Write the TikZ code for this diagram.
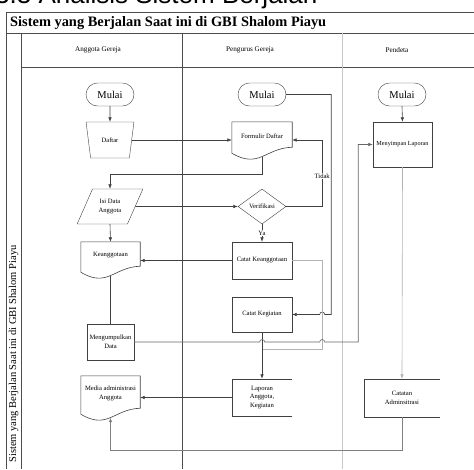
\documentclass[tikz,border=0pt]{standalone}
\usepackage{fontspec}
\setmainfont{Liberation Serif}
\newfontfamily\headsans{Liberation Sans}
\usetikzlibrary{shapes.geometric, arrows.meta, positioning, calc}

% outline of a document symbol (wavy bottom) round a node
\newcommand{\docpath}[1]{%
	\draw[conn] ([yshift=-3pt]#1.south west) -- (#1.north west) -- (#1.north east) -- ([yshift=3pt]#1.south east)
	.. controls ([xshift=3pt,yshift=2pt]#1.south) and ([xshift=-3pt,yshift=-19pt]#1.south) .. ([yshift=-3pt]#1.south west);}
% box open on its right side
\newcommand{\openbox}[1]{%
	\draw[conn] (#1.north east) -- (#1.north west) -- (#1.south west) -- (#1.south east);}

\begin{document}
\begin{tikzpicture}[
	x=1pt, y=-1pt,
	font=\fontsize{6.6}{8.8}\selectfont,
	% Shape styles
	start/.style={draw=black!75, rounded corners=11.5pt, minimum width=48pt, minimum height=23pt, inner sep=1pt, font=\fontsize{10.5}{12}\selectfont},
	manual/.style={draw=black!75, trapezium, trapezium left angle=108.4, trapezium right angle=108.4, trapezium stretches=true, minimum width=48pt, minimum height=36pt, inner sep=1pt},
	inputbox/.style={draw=black!75, trapezium, trapezium left angle=56.7, trapezium right angle=123.3, trapezium stretches=true, minimum width=66pt, minimum height=35pt, inner sep=1pt, align=center},
	decision/.style={draw=black!75, diamond, minimum width=48pt, minimum height=35pt, inner sep=0pt},
	process/.style={draw=black!75, rectangle, inner sep=0.5pt, align=center},
	doc/.style={rectangle, inner sep=0.5pt, align=center},
	store/.style={rectangle, inner sep=0.5pt, align=center},
	% Text styles
	swimtitle/.style={font=\fontsize{14.4}{16}\selectfont\bfseries, inner sep=0pt},
	bandtext/.style={font=\fontsize{10.5}{12}\selectfont, inner sep=0pt},
	lanehead/.style={font=\fontsize{7.2}{8}\selectfont},
	tag/.style={fill=white, inner sep=0.8pt},
	% Line styles
	swim/.style={draw=black!70, line width=0.7pt},
	conn/.style={draw=black!75, line width=0.6pt},
	arr/.style={conn, -{Latex[length=4.5pt, width=3.6pt]}}
	]
	
	\useasboundingbox (0,0) rectangle (474,469);
	
	% heading of the page, cut by the top edge
	\node[anchor=base west, inner sep=0pt, font=\headsans\fontsize{26}{30}\selectfont] (Head) at (-5,3.5) {3.3 Analisis Sistem Berjalan};
	
	% ==============================================================================
	% SWIMLANE FRAME
	% ==============================================================================
	\draw[swim] (474,12) -- (6,12) -- (6,469);
	\draw[swim] (6,33) -- (474,33);
	\draw[swim] (21,33) -- (21,469);
	\draw[swim] (21,67) -- (474,67);
	\draw[swim] (182,33) -- (182,469);
	\draw[swim, draw=black!22] (342,33) -- (342,469);
	
	\node[swimtitle, anchor=west] (Title) at (10,23.5) {Sistem yang Berjalan Saat ini di GBI Shalom Piayu};
	\node[bandtext, rotate=90] (Band) at (13.5,354) {Sistem yang Berjalan Saat ini di GBI Shalom Piayu};
	\node[lanehead] (LaneA) at (98,50) {Anggota Gereja};
	\node[lanehead] (LaneP) at (250,50) {Pengurus Gereja};
	\node[lanehead] (LaneD) at (397,50) {Pendeta};
	
	% ==============================================================================
	% ANGGOTA GEREJA
	% ==============================================================================
	\node[start] (MulaiA) at (110,94.5) {Mulai};
	\node[manual] (Daftar) at (110,140) {Daftar};
	\node[inputbox] (IsiData) at (110,206.5) {Isi Data\\Anggota};
	\node[doc, minimum width=59pt, minimum height=27pt] (Keanggotaan) at (110.5,255.5) {Keanggotaan};
	\node[process, minimum width=47pt, minimum height=36pt] (Kumpul) at (110.5,342) {Mengumpulkan\\Data};
	\node[doc, minimum width=59pt, minimum height=35pt] (Media) at (110.5,393.5) {Media administrasi\\Anggota};
	\docpath{Keanggotaan}
	\docpath{Media}
	
	% ==============================================================================
	% PENGURUS GEREJA
	% ==============================================================================
	\node[start] (MulaiP) at (262,94.5) {Mulai};
	\node[doc, minimum width=60pt, minimum height=28pt] (Formulir) at (262,136) {Formulir Daftar};
	\node[decision] (Verifikasi) at (262,206.5) {Verifikasi};
	\node[process, minimum width=60pt, minimum height=37pt] (CatatAnggota) at (262,260.5) {Catat Keanggotaan};
	\node[process, minimum width=60pt, minimum height=35pt] (CatatKegiatan) at (262,314.5) {Catat Kegiatan};
	\node[store, minimum width=60pt, minimum height=37pt] (Laporan) at (262,397.5) {Laporan\\Anggota,\\Kegiatan};
	\docpath{Formulir}
	\openbox{Laporan}
	
	% ==============================================================================
	% PENDETA
	% ==============================================================================
	\node[start] (MulaiD) at (402,94.5) {Mulai};
	\node[process, minimum width=59pt, minimum height=45pt, font=\fontsize{6.2}{8}\selectfont] (Menyimpan) at (402.5,144.5) {Menyimpan Laporan};
	\node[store, minimum width=76pt, minimum height=38pt] (Catatan) at (402,398) {Catatan\\Adminsitrasi};
	\openbox{Catatan}
	
	% ==============================================================================
	% FLOW
	% ==============================================================================
	\draw[arr] (MulaiA.south) -- (Daftar.north);
	\draw[arr] (Daftar.east) -- (Daftar.east -| Formulir.west);
	\draw[arr] ([yshift=-6.5pt]Formulir.south) -- ++(0,18) -| (IsiData.north);
	\draw[arr] (IsiData.east) -- (Verifikasi.west);
	\draw[arr] (IsiData.south) -- (Keanggotaan.north);
	\draw[conn] ([yshift=-6.5pt]Keanggotaan.south) -- (Kumpul.north);
	\draw[arr] (Verifikasi.south) -- node[tag] {Ya} (CatatAnggota.north);
	\draw[arr] (Verifikasi.east) -- ++(36,0) |- node[tag, pos=0.23] {Tidak} ([yshift=-4pt]Formulir.east);
	\draw[arr] (CatatAnggota.west) -- (CatatAnggota.west -| Keanggotaan.east);
	
	% Mulai (pengurus) round to Catat Kegiatan, hop over the line at 322
	\draw[arr] (MulaiP.east) -- ++(45,0) coordinate (mp) -- (mp |- CatatKegiatan.east) -- ++(-6.5,0) arc[start angle=0, end angle=-180, radius=2.5] -- (CatatKegiatan.east);
	
	\coordinate (Join) at ([yshift=-17pt]CatatKegiatan.south);
	\draw[conn, draw=black!30] (CatatAnggota.east) -- ++(30,0) |- (Join);
	\draw[arr, line width=0.8pt] (CatatKegiatan.south) -- (Laporan.north);
	
	% Mengumpulkan Data to Menyimpan Laporan, two hops
	\draw[arr, draw=black!60] (Kumpul.east) -- ++(125.5,0) arc[start angle=180, end angle=360, radius=2.5] -- ++(55,0) arc[start angle=180, end angle=360, radius=2.5] -- ++(33.5,0) |- (Menyimpan.west);
	
	\draw[arr] (MulaiD.south) -- (Menyimpan.north);
	\draw[arr, draw=black!30] (Menyimpan.south) -- (Catatan.north);
	\draw[arr] (Laporan.west) -- (Laporan.west -| Media.east);
	\draw[arr, draw=black!50] (Catatan.south) -- ++(0,33) -| ([yshift=-6.5pt]Media.south);
	
\end{tikzpicture}
\end{document}
